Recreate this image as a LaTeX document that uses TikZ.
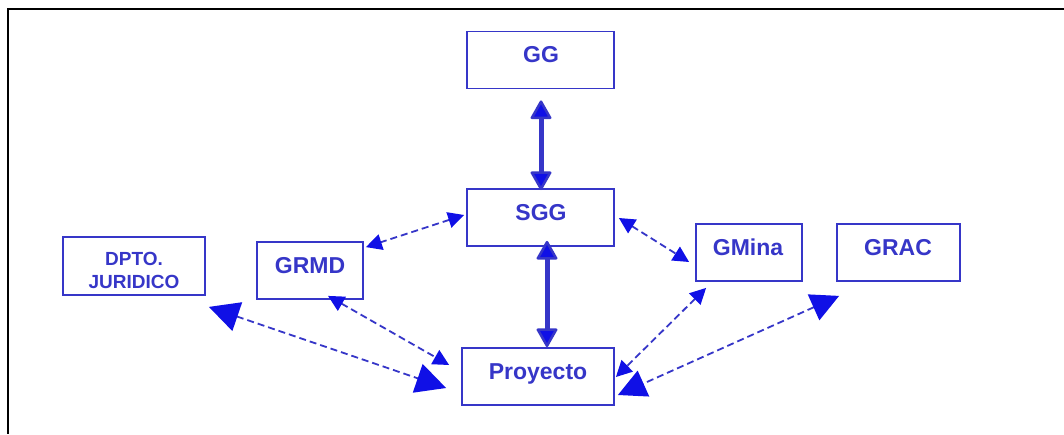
\documentclass[tikz,border=0pt]{standalone}
\usepackage{fontspec}
\setmainfont{Liberation Sans}
\usetikzlibrary{arrows.meta,calc}
\definecolor{boxblue}{HTML}{3636C8}
\definecolor{headblue}{HTML}{1010E6}
\tikzset{
  box/.style={draw=boxblue,line width=1.8pt,minimum width=#1,inner sep=0pt,minimum height=57pt},
  lbl/.style={text=boxblue,font=\bfseries\fontsize{23}{23}\selectfont,anchor=base,inner sep=0pt},
  slbl/.style={text=boxblue,font=\bfseries\fontsize{19}{19}\selectfont,anchor=base,inner sep=0pt},
  thick link/.style={draw=boxblue,line width=5pt,
    {Triangle[length=20pt,width=22pt,line width=2.5pt,fill=headblue,round]}-{Triangle[length=20pt,width=22pt,line width=2.5pt,fill=headblue,round]}},
  dlink/.style={draw=boxblue,line width=1.8pt,dash pattern=on 7pt off 4pt,
    {Triangle[length=#1,width=#1,fill=headblue,color=headblue]}-{Triangle[length=#1,width=#1,fill=headblue,color=headblue]}},
}
\begin{document}
\begin{tikzpicture}[x=1pt,y=-1pt]
\path[use as bounding box,fill=white] (0,0) rectangle (1064,434);
\draw[line width=1.6pt,black] (1064,9) -- (8,9) -- (8,434);
% boxes
\node[box=147pt] (gg) at (540.5,60) {};
\node[box=147pt] (sgg) at (540.5,217.5) {};
\node[box=152pt] (pro) at (538,376.5) {};
\node[box=142pt,minimum height=58pt] (dpto) at (134,266) {};
\node[box=106pt] (grmd) at (310,270.5) {};
\node[box=106pt] (gmina) at (749,252.5) {};
\node[box=123pt] (grac) at (898.5,252.5) {};
% labels
\node[lbl] (ggt) at (541,62.5) {GG};
\node[lbl] (sggt) at (541,220) {SGG};
\node[lbl] (prot) at (538,379) {Proyecto};
\node[lbl] (grmdt) at (310,273) {GRMD};
\node[lbl] (gminat) at (748,255) {GMina};
\node[lbl] (gract) at (898,255) {GRAC};
\node[slbl] (dptot1) at (134,265) {DPTO.};
\node[slbl] (dptot2) at (134,288) {JURIDICO};
% thick links
\draw[thick link] ($(gg.south)+(0.5,11)$) -- ($(sgg.north)+(0.5,2)$);
\draw[thick link] ($(sgg.south)+(6.5,-6)$) -- ($(pro.north)+(9,0)$);
% dashed links
\draw[dlink=16pt] ($(sgg.west)+(-2,-2.5)$) -- ($(grmd.north east)+(2,6)$);
\draw[dlink=16pt] ($(sgg.east)+(4,0.5)$) -- ($(gmina.west)+(-6,9.5)$);
\draw[dlink=16pt] ($(grmd.south)+(18,-4)$) -- ($(pro.west)+(-12,-11.5)$);
\draw[dlink=30pt] ($(dpto.south east)+(3,11)$) -- ($(pro.west)+(-15,11.5)$);
\draw[dlink=16pt] ($(gmina.south west)+(11,6)$) -- ($(pro.east)+(1,0.5)$);
\draw[dlink=28pt] ($(grac.south west)+(3,14)$) -- ($(pro.east)+(3,18.5)$);
\end{tikzpicture}
\end{document}
